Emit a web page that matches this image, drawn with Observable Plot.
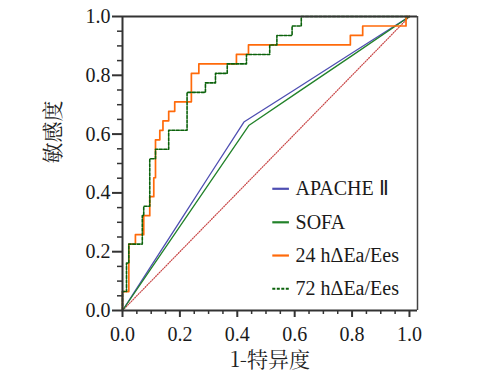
<!DOCTYPE html>
<html>
<head>
<meta charset="utf-8">
<script src="https://cdn.jsdelivr.net/npm/d3@7"></script>
<script src="https://cdn.jsdelivr.net/npm/@observablehq/plot@0.6"></script>
<style>
  html, body { margin: 0; padding: 0; background: #fff; }
</style>
</head>
<body>
<div id="chart"></div>
<script>
// ---- Data ----
const xTicks = [0, 0.2, 0.4, 0.6, 0.8, 1.0];
const yTicks = [0, 0.2, 0.4, 0.6, 0.8, 1.0];
const minorTicks = [0.05, 0.1, 0.15, 0.25, 0.3, 0.35, 0.45, 0.5, 0.55, 0.65, 0.7, 0.75, 0.85, 0.9, 0.95];

const seriesNames = ["APACHE Ⅱ", "SOFA", "24 hΔEa/Ees", "72 hΔEa/Ees"];
const xTitle = "1-特异度";
const yTitle = "敏感度";

const apacheFpr = [0, 0.1, 0.2, 0.3, 0.423, 0.6, 0.8, 1];
const apacheTpr = [0, 0.152, 0.303, 0.455, 0.641, 0.751, 0.876, 1];

const sofaFpr = [0, 0.1, 0.2, 0.3, 0.44, 0.6, 0.8, 1];
const sofaTpr = [0, 0.143, 0.286, 0.429, 0.629, 0.735, 0.867, 1];

// step ROC corners (x at end of horizontal run, sensitivity level)
const ea24Fpr = [0, 0.022, 0.045, 0.074, 0.095, 0.109, 0.115, 0.13, 0.141, 0.161, 0.182, 0.24, 0.266, 0.397, 0.439, 0.794, 0.837, 0.988, 1];
const ea24Tpr = [0, 2/31, 7/31, 8/31, 10/31, 12/31, 14/31, 18/31, 19/31, 20/31, 21/31, 22/31, 25/31, 26/31, 27/31, 28/31, 29/31, 30/31, 1];

const ea72Fpr = [0, 0.014, 0.022, 0.069, 0.074, 0.095, 0.115, 0.161, 0.225, 0.289, 0.324, 0.365, 0.432, 0.513, 0.538, 0.591, 0.623, 1];
const ea72Tpr = [0, 2/31, 5/31, 7/31, 10/31, 11/31, 16/31, 17/31, 19/31, 23/31, 24/31, 25/31, 26/31, 27/31, 28/31, 29/31, 30/31, 1];

const refLine = [0, 1];

// legend placement in data units (inside the frame, lower right)
const legendY = [0.414, 0.300, 0.187, 0.074];
const legendX1 = 0.522, legendX2 = 0.58, legendTextX = 0.603;

// ---- Styles ----
const series = [
  {name: seriesNames[0], fpr: apacheFpr, tpr: apacheTpr, stroke: "#4e4eb2", width: 1.3, dash: null, curve: "linear"},
  {name: seriesNames[1], fpr: sofaFpr, tpr: sofaTpr, stroke: "#22822a", width: 1.3, dash: null, curve: "linear"},
  {name: seriesNames[2], fpr: ea24Fpr, tpr: ea24Tpr, stroke: "#ff6a0a", width: 1.7, dash: null, curve: "step-before"},
  {name: seriesNames[3], fpr: ea72Fpr, tpr: ea72Tpr, stroke: "#0b620b", width: 1.6, dash: "3,1.5", curve: "step-before"}
];

const serif = "Liberation Serif";
const cjkSerif = "Noto Serif CJK SC";
const fmt = d3.format(".1f");

const marks = [
  // reference diagonal
  Plot.line(refLine.map(v => [v, v]), {x: d => d[0], y: d => d[1], stroke: "#c84646", strokeWidth: 1.2, strokeDasharray: "1,1.5"})
];

for (const s of series) {
  const pts = s.fpr.map((f, i) => ({x: f, y: s.tpr[i]}));
  marks.push(Plot.line(pts, {x: "x", y: "y", stroke: s.stroke, strokeWidth: s.width, strokeDasharray: s.dash, curve: s.curve}));
}

// legend
series.forEach((s, i) => {
  marks.push(Plot.link([s], {x1: () => legendX1, x2: () => legendX2, y1: () => legendY[i], y2: () => legendY[i], stroke: s.stroke, strokeWidth: 2.2, strokeDasharray: s.dash}));
  marks.push(Plot.text([s], {x: () => legendTextX, y: () => legendY[i], text: d => d.name, textAnchor: "start", lineAnchor: "middle", fontSize: 20, fontFamily: serif, fill: "#1a1a1a"}));
});

marks.push(
  // frame & axis lines
  Plot.ruleY([0], {stroke: "#333", strokeWidth: 2}),
  Plot.ruleX([0], {stroke: "#333", strokeWidth: 2}),
  Plot.ruleY([1], {stroke: "#333", strokeWidth: 2}),
  Plot.ruleX([1.028], {stroke: "#444", strokeWidth: 1.5}),
  // minor ticks
  Plot.axisX(minorTicks, {tickSize: 4, fill: "none", label: null, stroke: "#333", strokeWidth: 1.5}),
  Plot.axisY(minorTicks, {tickSize: 5, fill: "none", label: null, stroke: "#333", strokeWidth: 1.5}),
  // major ticks
  Plot.axisX(xTicks, {tickSize: 7, tickPadding: 9, tickFormat: fmt, fontSize: 20, fontFamily: serif, fill: "#1a1a1a", stroke: "#333", strokeWidth: 2, label: null}),
  Plot.axisY(yTicks, {tickSize: 10, tickPadding: 2, tickFormat: fmt, fontSize: 20, fontFamily: serif, fill: "#1a1a1a", stroke: "#333", strokeWidth: 2, label: null}),
  // axis titles
  Plot.text([xTitle], {frameAnchor: "bottom", dy: 50, lineAnchor: "middle", fontSize: 21, fontFamily: cjkSerif, fill: "#222"}),
  Plot.text([yTitle], {frameAnchor: "left", dx: -69, rotate: -90, lineAnchor: "middle", fontSize: 21, fontFamily: cjkSerif, fill: "#222"})
);

const chart = Plot.plot({
  width: 484,
  height: 379,
  marginLeft: 122,
  marginRight: 67,
  marginTop: 16,
  marginBottom: 69,
  x: {domain: [0, 1.028], label: null},
  y: {domain: [0, 1], label: null},
  style: {background: "#fff", color: "#222", overflow: "visible", fontFamily: serif},
  marks
});

// force fonts on each text element
chart.querySelectorAll("text").forEach(t => {
  const isCjk = /[\u4e00-\u9fff]/.test(t.textContent);
  t.style.fontFamily = isCjk ? `"${cjkSerif}", "Noto Sans CJK SC", serif` : `"${serif}", serif`;
});
document.getElementById("chart").appendChild(chart);
</script>
</body>
</html>
